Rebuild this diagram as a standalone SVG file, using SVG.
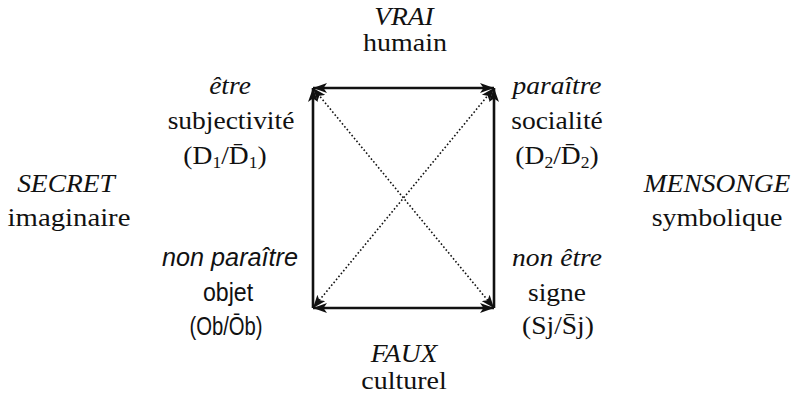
<svg xmlns="http://www.w3.org/2000/svg" width="800" height="405" viewBox="0 0 800 405">
<style>
text{font-size:25px;fill:#111;text-anchor:middle}
.it{font-style:italic}
.sans{font-size:26px}
.sub{font-size:16px}
.edge{stroke:#111;stroke-width:2.6;fill:none}
.diag{stroke:#111;stroke-width:1.6;fill:none;stroke-dasharray:1.6 2.2}
</style>
<defs>
<marker id="ah" markerUnits="userSpaceOnUse" markerWidth="16" markerHeight="12" refX="14" refY="5" orient="auto-start-reverse" viewBox="0 0 16 10">
<path d="M0,0 L14,5 L0,10 L3.5,5 z" fill="#111"/>
</marker>
<marker id="ad" markerUnits="userSpaceOnUse" markerWidth="14" markerHeight="11" refX="13" refY="5" orient="auto-start-reverse" viewBox="0 0 14 10">
<path d="M0,0 L13,5 L0,10 L3,5 z" fill="#111"/>
</marker>
</defs>
<g id="connectors">
<line class="edge" x1="313" y1="88" x2="494" y2="88" marker-start="url(#ah)" marker-end="url(#ah)"/>
<line class="edge" x1="313" y1="308" x2="494" y2="308" marker-start="url(#ah)" marker-end="url(#ah)"/>
<line class="edge" x1="313" y1="308" x2="313" y2="88" marker-end="url(#ah)"/>
<line class="edge" x1="494" y1="308" x2="494" y2="88" marker-end="url(#ah)"/>
<line class="diag" x1="313" y1="88" x2="494" y2="308" marker-start="url(#ad)" marker-end="url(#ad)"/>
<line class="diag" x1="494" y1="88" x2="313" y2="308" marker-start="url(#ad)" marker-end="url(#ad)"/>
</g>
<g font-family="Liberation Serif, serif">
<g id="vrai">
<text class="it" transform="translate(404,25) scale(1.1,1)">VRAI</text>
<text transform="translate(405,51) scale(1.12,1)">humain</text>
</g>
<g id="faux">
<text class="it" transform="translate(404,362) scale(1.1,1)">FAUX</text>
<text transform="translate(404,389) scale(1.12,1)">culturel</text>
</g>
<g id="secret">
<text class="it" transform="translate(66,192) scale(1.1,1)">SECRET</text>
<text transform="translate(69,226) scale(1.15,1)">imaginaire</text>
</g>
<g id="mensonge">
<text class="it" transform="translate(717,192) scale(1.1,1)">MENSONGE</text>
<text transform="translate(717,226) scale(1.12,1)">symbolique</text>
</g>
<g id="etre">
<text class="it" transform="translate(230,94) scale(1.1,1)">être</text>
<text transform="translate(231,129) scale(1.1,1)">subjectivité</text>
<text transform="translate(225,164) scale(1.1,1)">(D<tspan class="sub" dy="4">1</tspan><tspan dy="-4">/D̄</tspan><tspan class="sub" dy="4">1</tspan><tspan dy="-4">)</tspan></text>
</g>
<g id="paraitre">
<text class="it" transform="translate(557,94) scale(1.1,1)">paraître</text>
<text transform="translate(557,129) scale(1.1,1)">socialité</text>
<text transform="translate(557,164) scale(1.1,1)">(D<tspan class="sub" dy="4">2</tspan><tspan dy="-4">/D̄</tspan><tspan class="sub" dy="4">2</tspan><tspan dy="-4">)</tspan></text>
</g>
<g id="non-paraitre" font-family="Liberation Sans, sans-serif">
<text class="it sans" transform="translate(230,266) scale(0.97,1)">non paraître</text>
<text class="sans" transform="translate(228,301) scale(0.89,1)">objet</text>
<text class="sans" transform="translate(226,335) scale(0.78,1)">(Ob/Ōb)</text>
</g>
<g id="non-etre">
<text class="it" transform="translate(557,266) scale(1.1,1)">non être</text>
<text transform="translate(557,301) scale(1.1,1)">signe</text>
<text transform="translate(558,334) scale(1.1,1)">(Sj/S̄j)</text>
</g>
</g>
</svg>
